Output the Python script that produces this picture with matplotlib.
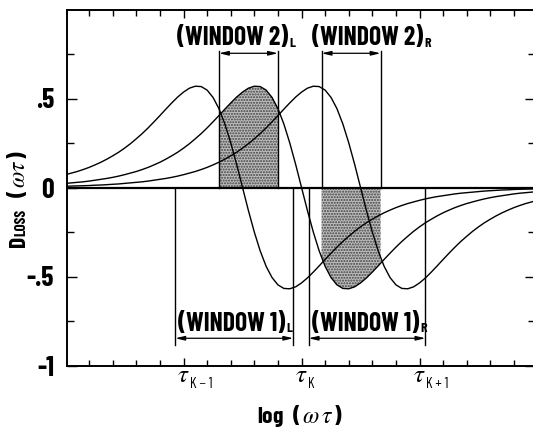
import numpy as np
import matplotlib
matplotlib.use("Agg")
import matplotlib.pyplot as plt
from matplotlib import font_manager as fm
from matplotlib.transforms import ScaledTranslation

# ---------------- data ----------------
x_log = [round(0.05 * i, 2) for i in range(81)]  # log(omega tau) axis positions, 0 .. 4

curve_a = [0.072, 0.081, 0.090, 0.101, 0.113, 0.127, 0.142, 0.159, 0.178, 0.198,
           0.221, 0.246, 0.274, 0.303, 0.335, 0.369, 0.404, 0.440, 0.475, 0.508,
           0.536, 0.558, 0.569, 0.567, 0.547, 0.506, 0.443, 0.357, 0.251, 0.130,
           0.0,
           -0.130, -0.251, -0.357, -0.443, -0.506, -0.547, -0.567, -0.569, -0.558, -0.536,
           -0.508, -0.475, -0.440, -0.404, -0.369, -0.335, -0.303, -0.274, -0.246, -0.221,
           -0.198, -0.178, -0.159, -0.142, -0.127, -0.113, -0.101, -0.090, -0.081, -0.072,
           -0.064, -0.057, -0.051, -0.046, -0.041, -0.036, -0.032, -0.029, -0.026, -0.023,
           -0.020, -0.018, -0.016, -0.014, -0.013, -0.011, -0.010, -0.009, -0.008, -0.007]

curve_b = [0.023, 0.026, 0.029, 0.032, 0.036, 0.041, 0.046, 0.051, 0.057, 0.064,
           0.072, 0.081, 0.090, 0.101, 0.113, 0.127, 0.142, 0.159, 0.178, 0.198,
           0.221, 0.246, 0.274, 0.303, 0.335, 0.369, 0.404, 0.440, 0.475, 0.508,
           0.536, 0.558, 0.569, 0.567, 0.547, 0.506, 0.443, 0.357, 0.251, 0.130,
           0.0,
           -0.130, -0.251, -0.357, -0.443, -0.506, -0.547, -0.567, -0.569, -0.558, -0.536,
           -0.508, -0.475, -0.440, -0.404, -0.369, -0.335, -0.303, -0.274, -0.246, -0.221,
           -0.198, -0.178, -0.159, -0.142, -0.127, -0.113, -0.101, -0.090, -0.081, -0.072,
           -0.064, -0.057, -0.051, -0.046, -0.041, -0.036, -0.032, -0.029, -0.026, -0.023]

curve_c = [0.007, 0.008, 0.009, 0.010, 0.011, 0.013, 0.014, 0.016, 0.018, 0.020,
           0.023, 0.026, 0.029, 0.032, 0.036, 0.041, 0.046, 0.051, 0.057, 0.064,
           0.072, 0.081, 0.090, 0.101, 0.113, 0.127, 0.142, 0.159, 0.178, 0.198,
           0.221, 0.246, 0.274, 0.303, 0.335, 0.369, 0.404, 0.440, 0.475, 0.508,
           0.536, 0.558, 0.569, 0.567, 0.547, 0.506, 0.443, 0.357, 0.251, 0.130,
           0.0,
           -0.130, -0.251, -0.357, -0.443, -0.506, -0.547, -0.567, -0.569, -0.558, -0.536,
           -0.508, -0.475, -0.440, -0.404, -0.369, -0.335, -0.303, -0.274, -0.246, -0.221,
           -0.198, -0.178, -0.159, -0.142, -0.127, -0.113, -0.101, -0.090, -0.081, -0.072]

# windows (log units)
window2_L = [1.30, 1.80]
window2_R = [2.17, 2.67]
window1_L = [0.93, 1.93]
window1_R = [2.06, 3.05]

tau_ticks = [1, 2, 3]
tau_subs = ['K \u2212 1', 'K', 'K + 1']
y_ticks = [-1, -0.5, 0, 0.5]
y_labels = ['-1', '-.5', '0', '.5']

# ---------------- fonts ----------------
names = {f.name for f in fm.fontManager.ttflist}
COND = 'DejaVu Sans'
for cand in ['Barlow Condensed', 'Asap Condensed', 'Archivo Narrow', 'Liberation Sans Narrow']:
    if cand in names:
        COND = cand
        break

plt.rcParams['mathtext.fontset'] = 'custom'
plt.rcParams['mathtext.rm'] = f'{COND}:bold'
plt.rcParams['mathtext.bf'] = f'{COND}:bold'
plt.rcParams['mathtext.it'] = 'STIXGeneral:italic'
plt.rcParams['mathtext.sf'] = 'DejaVu Sans'

W, H = 533, 430
fig = plt.figure(figsize=(W / 100, H / 100), dpi=100)
left_px, right_px, top_px, bot_px = 66.7, 535.2, 9.5, 365.5
ax = fig.add_axes([left_px / W, (H - bot_px) / H, (right_px - left_px) / W, (bot_px - top_px) / H])
ax.set_xlim(0.01, 3.98)
ax.set_ylim(-1, 1)

x = np.array(x_log)
for c in (curve_a, curve_b, curve_c):
    ax.plot(x, c, color='k', lw=1.0, solid_capstyle='round', zorder=3)

ax.axhline(0, color='k', lw=1.6, zorder=4)

# shading of window 2 under curve B
def shade(win, ys):
    ys = np.array(ys)
    inside = (x > win[0]) & (x < win[1])
    xs = np.concatenate([[win[0]], x[inside], [win[1]]])
    yy = np.concatenate([[np.interp(win[0], x, ys)], ys[inside], [np.interp(win[1], x, ys)]])
    ax.fill_between(xs, 0, yy, facecolor='#bdbdbd', edgecolor='#404040', hatch='......',
                    linewidth=0, zorder=2)

shade(window2_L, curve_b)
shade(window2_R, curve_b)

# window lines and arrows
def window(win, y_end, y_arrow):
    for xv in win:
        ax.plot([xv, xv], [0, y_end], color='k', lw=1.0, zorder=3)
    ax.annotate('', xy=(win[1], y_arrow), xytext=(win[0], y_arrow),
                arrowprops=dict(arrowstyle='<|-|>,head_length=0.55,head_width=0.13',
                                color='k', lw=0.9, shrinkA=0, shrinkB=0), zorder=5)

window(window2_L, 0.767, 0.754)
window(window2_R, 0.767, 0.754)
window(window1_L, -0.885, -0.847)
window(window1_R, -0.885, -0.847)

# ticks
ax.set_xticks(tau_ticks)
ax.set_xticklabels([''] * len(tau_ticks))
ax.set_xticks(np.arange(0.2, 3.99, 0.2), minor=True)
ax.set_yticks(y_ticks)
ax.set_yticklabels(y_labels, fontfamily=COND, fontweight='bold', fontsize=20)
ax.set_yticks(np.arange(-0.75, 1.0, 0.25), minor=True)
ax.tick_params(axis='both', which='both', direction='in', top=True, right=True, width=1.0)
ax.tick_params(axis='y', which='major', length=7, pad=9)
ax.tick_params(axis='y', which='minor', length=5)
ax.tick_params(axis='x', which='major', length=6, pad=4)
ax.tick_params(axis='x', which='minor', length=4)
for s in ax.spines.values():
    s.set_linewidth(1.4)

# tau tick labels: tau centred on the tick, subscript to the right and lower
xt = ax.get_xaxis_transform()
for t, sub in zip(tau_ticks, tau_subs):
    ax.text(t, 0, r'$\tau$', fontsize=18, ha='center', va='baseline',
            transform=xt + ScaledTranslation(0, -16.5 / 100, fig.dpi_scale_trans))
    ax.text(t, 0, sub, fontsize=10.5, fontfamily=COND, ha='left', va='baseline',
            transform=xt + ScaledTranslation(6 / 100, -23 / 100, fig.dpi_scale_trans))

# x label
fig.text(300 / W, 1 - 416 / H, r'log  ($\,\omega\,\tau\,$)', fontfamily=COND, fontweight='bold',
         fontsize=17, ha='center', va='center')

fig.canvas.draw()
r = fig.canvas.get_renderer()

# window labels with small subscripts
lab_kw = dict(fontfamily=COND, fontweight='bold', va='baseline', ha='left')
for xs_, ys_, main, sub in [(0.947, 0.80, '(WINDOW 2)', 'L'), (2.091, 0.80, '(WINDOW 2)', 'R'),
                            (0.955, -0.805, '(WINDOW 1)', 'L'), (2.091, -0.805, '(WINDOW 1)', 'R')]:
    tm = ax.text(xs_, ys_, main, fontsize=18.5, **lab_kw)
    fig.canvas.draw()
    em = tm.get_window_extent(r)
    base = ax.transData.transform((xs_, ys_))
    fig.text((em.x1 + 0.5) / W, (base[1] - 1.5) / H, sub, fontsize=10, **lab_kw)

# y label built from pieces
yl_kw = dict(rotation=90, rotation_mode='anchor', ha='left', va='baseline',
             fontfamily=COND, fontweight='bold')
bx = 25 / W
t1 = fig.text(bx, (H - 247) / H, 'D', fontsize=17, **yl_kw)
fig.canvas.draw()
e1 = t1.get_window_extent(r)
t2 = fig.text(bx, (e1.y1 - 0.5) / H, 'LOSS', fontsize=11, **yl_kw)
fig.canvas.draw()
e2 = t2.get_window_extent(r)
t3 = fig.text(bx, (e2.y1 + 11) / H, r'($\,\omega\tau\,$)', fontsize=17, **yl_kw)

fig.savefig('out.png', dpi=100)
